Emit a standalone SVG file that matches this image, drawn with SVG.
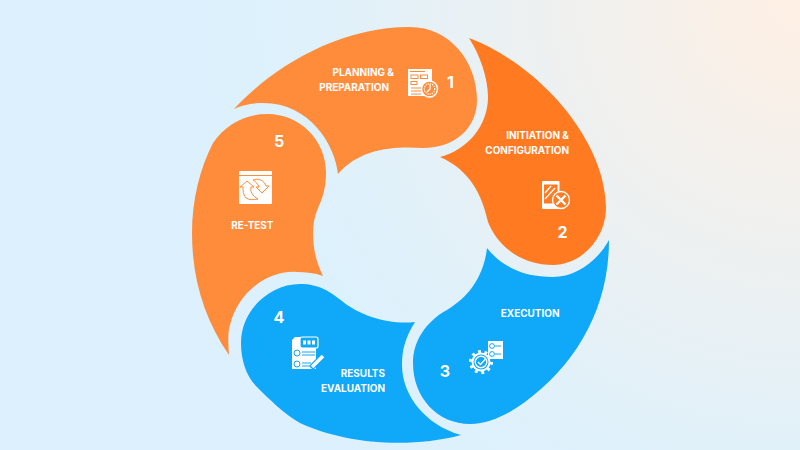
<svg xmlns="http://www.w3.org/2000/svg" width="800" height="450" viewBox="0 0 800 450">
<style>
.l{font-family:Inter,"Liberation Sans",sans-serif;font-weight:700;font-size:9.95px;fill:#fff;text-anchor:end}
.n{font-family:Inter,"Liberation Sans",sans-serif;font-weight:700;font-size:16px;fill:#fff;text-anchor:middle}
.w{fill:#fff}
.so{fill:none;stroke:#FF8C3A;stroke-width:1}
.sd{fill:none;stroke:#FF7A21;stroke-width:1}
.sb{fill:none;stroke:#10A8F8;stroke-width:1}
.wl{fill:none;stroke:#fff;stroke-width:1.400}
</style>
<defs>
<radialGradient id="bg" gradientUnits="userSpaceOnUse" cx="800" cy="0" r="600">
<stop offset="0" stop-color="#FFF0E4"/><stop offset="0.8" stop-color="#DFF1FB"/><stop offset="1" stop-color="#DCF1FD"/>
</radialGradient>
</defs>
<rect width="800" height="450" fill="url(#bg)"/>
<g id="node-1">
<path fill="#FF8C3A" d="M234 109C270 70 335 27 410 27C450 27 477 62 477 100C477 128 455 148 423 148C395 146 360 148 338 174C335 145 310 103 263 103C252 103 243 105 234 109Z"/>
<rect class="w" x="408" y="69" width="24" height="27"/>
<path class="so" d="M410 71.500H425"/>
<rect class="so" x="411" y="75" width="7" height="3.500"/><rect class="so" x="420.500" y="75" width="7" height="3.500"/><rect class="so" x="411" y="81.500" width="6" height="3"/>
<path class="so" d="M411 88H421M411 91H421M411 94H421"/>
<circle cx="429.500" cy="89" r="8" fill="#FF8C3A" stroke="#fff" stroke-width="1.500"/>
<circle cx="429.500" cy="89" r="5.200" fill="none" stroke="#fff" stroke-width="1.200" stroke-dasharray="1.200 1"/>
<path class="wl" d="M430 84.500V89L427 92"/>
<text class="l" x="394" y="76">PLANNING &amp;</text>
<text class="l" x="389" y="91">PREPARATION</text>
<text class="n" x="450.500" y="88">1</text>
</g>
<g id="node-2">
<path fill="#FF7A21" d="M469 38C540 65 605 140 606 207C606 240 580 265 553 265C520 265 497 245 488 222C482 195 470 170 440 157C468 150 488 125 488 97C488 78 480 55 469 38Z"/>
<rect class="w" x="542" y="181" width="17.500" height="28" rx="1"/>
<rect fill="#FF7A21" x="544" y="184.500" width="13.500" height="19"/>
<path class="wl" d="M545 193L551 186M545 199L555 188"/>
<circle cx="561" cy="200" r="8.500" fill="#FF7A21" stroke="#fff" stroke-width="1.400"/>
<path d="M556.500 195.500L565.500 204.500M565.500 195.500L556.500 204.500" stroke="#fff" stroke-width="2.400" fill="none"/>
<text class="l" x="569" y="139">INITIATION &amp;</text>
<text class="l" x="569" y="154">CONFIGURATION</text>
<text class="n" x="562.500" y="238">2</text>
</g>
<g id="node-3">
<path fill="#10A8F8" d="M487 248C484 275 470 296 447 310C425 322 413 342 413 363C413 398 438 424 470 424C490 424 510 413 525 402C575 365 609 310 609 240C597 262 575 277 553 277C525 277 503 268 487 248Z"/>
<circle cx="481" cy="362" r="10.500" fill="none" stroke="#fff" stroke-width="3" stroke-dasharray="2.800 3.800"/>
<circle cx="481" cy="362" r="9.500" class="w"/>
<circle cx="481" cy="362" r="7.500" fill="#10A8F8"/>
<circle cx="481" cy="362" r="5.800" class="wl" stroke-width="1"/>
<path class="wl" d="M478 362L480.500 364.500L485 359.500"/>
<rect class="w" x="488" y="341" width="15" height="18"/>
<circle cx="492" cy="346" r="2.400" class="sb"/><circle cx="492" cy="354" r="2.400" class="sb"/>
<path class="sb" d="M495 346H501M495 354H501"/>
<text class="l" x="559.500" y="317">EXECUTION</text>
<text class="n" x="445" y="377">3</text>
</g>
<g id="node-4">
<path fill="#10A8F8" d="M415 322C405 338 402 350 402 365C402 395 425 425 461 435C405 450 340 442 300 423C285 415 268 398 257 387C246 376 241 360 241 343C241 310 270 284 300 284C320 284 330 292 342 301C360 316 390 325 415 322Z"/>
<path class="w" d="M292 340L295 337H316V369H292Z"/>
<rect x="300" y="337" width="18" height="11" rx="2" fill="#10A8F8" stroke="#fff" stroke-width="1.200"/>
<rect class="w" x="303" y="340.500" width="3" height="4"/><rect class="w" x="307.500" y="340.500" width="3" height="4"/><rect class="w" x="312" y="340.500" width="3" height="4"/>
<circle cx="297" cy="353" r="3" class="sb"/><circle cx="297" cy="364" r="3" class="sb"/>
<path class="sb" d="M302 352H315M302 355H315M302 363H311M302 366H309"/>
<path d="M311 368L324 355" stroke="#10A8F8" stroke-width="6" fill="none"/>
<path d="M312 367L323 356" stroke="#fff" stroke-width="3.500" fill="none"/>
<text class="l" x="385" y="377">RESULTS</text>
<text class="l" x="385" y="392">EVALUATION</text>
<text class="n" x="279" y="323">4</text>
</g>
<g id="node-5">
<path fill="#FF8C3A" d="M267 114C300 114 326 140 326 173C326 180 325 190 322 198C320 205 313 215 313 233C313 248 316 262 323 276C315 273 306 272 297 272C268 270 238 292 230 325C228 330 228 340 229 355C205 320 192 280 192 233C192 200 200 168 213 143C225 125 245 114 267 114Z"/>
<rect class="w" x="239" y="171" width="33" height="33" rx="1"/>
<path class="so" d="M239 175.500H272"/>
<path class="so" d="M246 198C243 194 243 191 243 187H240L247 181L254 187H251C250 191 252 196 258 199C253 200 249 200 246 198ZM253 180C258 178 264 180 266 186H269L262 193L256 187H259C258 184 256 182 253 180Z"/>
<text class="l" x="273.500" y="229">RE-TEST</text>
<text class="n" x="279" y="147">5</text>
</g>
<g id="connectors"></g>
</svg>
